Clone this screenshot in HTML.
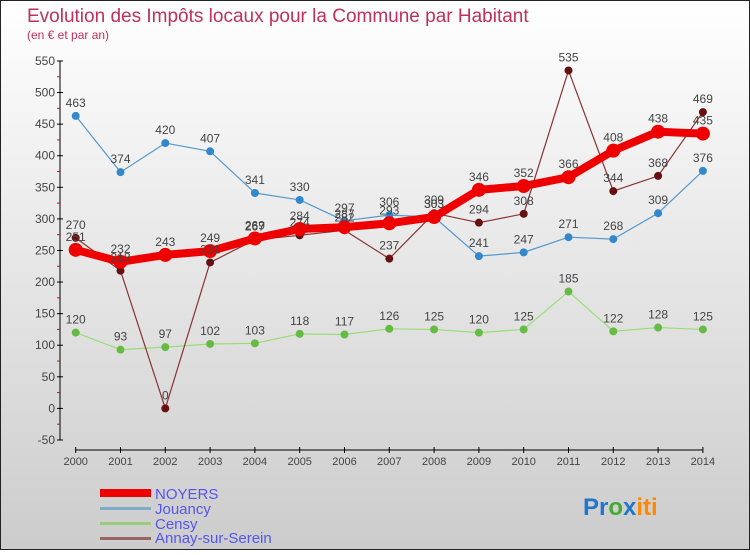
<!DOCTYPE html>
<html><head><meta charset="utf-8"><style>
body{margin:0}
#c{width:750px;height:550px;position:relative;font-family:"Liberation Sans",sans-serif}
</style></head><body>
<div id="c">
<svg id="s" width="750" height="550" xmlns="http://www.w3.org/2000/svg">
<defs><linearGradient id="bg" x1="0" y1="0" x2="0" y2="1"><stop offset="0" stop-color="#ffffff"/><stop offset="1" stop-color="#cccccc"/></linearGradient></defs>
<rect x="0.5" y="0.5" width="749" height="549" fill="url(#bg)" stroke="#222"/>
<text x="27" y="22" font-size="19" fill="#c0305a">Evolution des Impôts locaux pour la Commune par Habitant</text>
<text x="27" y="39" font-size="12" fill="#c0305a">(en € et par an)</text>
<g id="axes"></g><g id="series"></g><g id="labels"></g>
<g>
<rect x="100" y="489" width="51" height="8" fill="#ee0000"/>
<text x="155" y="499" font-size="15" fill="#5555ee">NOYERS</text>
<rect x="100" y="507" width="51" height="3" fill="#7faacc"/>
<text x="155" y="514" font-size="15" fill="#5555ee">Jouancy</text>
<rect x="100" y="522" width="51" height="3" fill="#99cc77"/>
<text x="155" y="529" font-size="15" fill="#5555ee">Censy</text>
<rect x="100" y="537" width="51" height="3" fill="#996666"/>
<text x="155" y="543" font-size="15" fill="#5555ee">Annay-sur-Serein</text>
</g>
<text x="583" y="515" font-size="24" font-weight="bold"><tspan fill="#2277cc">Pr</tspan><tspan fill="#44aa33">o</tspan><tspan fill="#2277cc">x</tspan><tspan fill="#ff8800">iti</tspan></text>
</svg></div>
<script>
const years=[2000,2001,2002,2003,2004,2005,2006,2007,2008,2009,2010,2011,2012,2013,2014];
const yTicks=[-50,0,50,100,150,200,250,300,350,400,450,500,550];
const noyers=[251,232,243,249,269,284,287,293,303,346,352,366,408,438,435];
const jouancy=[463,374,420,407,341,330,297,306,303,241,247,271,268,309,376];
const censy=[120,93,97,102,103,118,117,126,125,120,125,185,122,128,125];
const annay=[270,218,0,231,267,274,282,237,309,294,308,535,344,368,469];
const NS="http://www.w3.org/2000/svg";
const X=i=>75.7+i*44.8;
const Y=v=>408.4-v*0.6317;
function mk(t,a,p){const e=document.createElementNS(NS,t);for(const k in a)e.setAttribute(k,a[k]);p.appendChild(e);return e;}
const ax=document.getElementById('axes');
mk('line',{x1:60,y1:Y(550),x2:60,y2:Y(-50),stroke:'#000'},ax);
yTicks.forEach(v=>{
 mk('line',{x1:57,y1:Y(v),x2:63,y2:Y(v),stroke:'#000'},ax);
 if(v<550) mk('line',{x1:57,y1:Y(v+25),x2:60,y2:Y(v+25),stroke:'#e00'},ax);
 const t=mk('text',{x:55,y:Y(v)+4,'font-size':12,fill:'#444','text-anchor':'end'},ax);
 
 
 t.textContent=v;
});
mk('line',{x1:X(0),y1:450,x2:X(14),y2:450,stroke:'#000'},ax);
years.forEach((y,i)=>{
 mk('line',{x1:X(i),y1:447,x2:X(i),y2:453,stroke:'#000'},ax);
 const t=mk('text',{x:X(i),y:465,'font-size':11,fill:'#444','text-anchor':'middle'},ax);
 
 
 t.textContent=y;
});
const sg=document.getElementById('series'),lg=document.getElementById('labels');
function series(d,name,col,dot,w,r){
 const g=mk('g',{},sg);
 
 
 mk('polyline',{points:d.map((v,i)=>X(i)+','+Y(v)).join(' '),fill:'none',stroke:col,'stroke-width':w,'stroke-linejoin':'round'},g);
 d.forEach((v,i)=>{
  const c=mk('circle',{cx:X(i),cy:Y(v),r:r,fill:dot},g);
  
  
  const t=mk('text',{x:X(i),y:Y(v)-9,'font-size':12,fill:'#444','text-anchor':'middle'},lg);
  
  
  t.textContent=v;
 });
}
series(jouancy,'jouancy','#5599cc','#3388cc',1.2,4);
series(censy,'censy','#99dd77','#66bb44',1.2,4);
series(annay,'annay','#883333','#661111',1.2,4);
series(noyers,'noyers','#ee0000','#ee0000',8,7);
</script>
</body></html>
